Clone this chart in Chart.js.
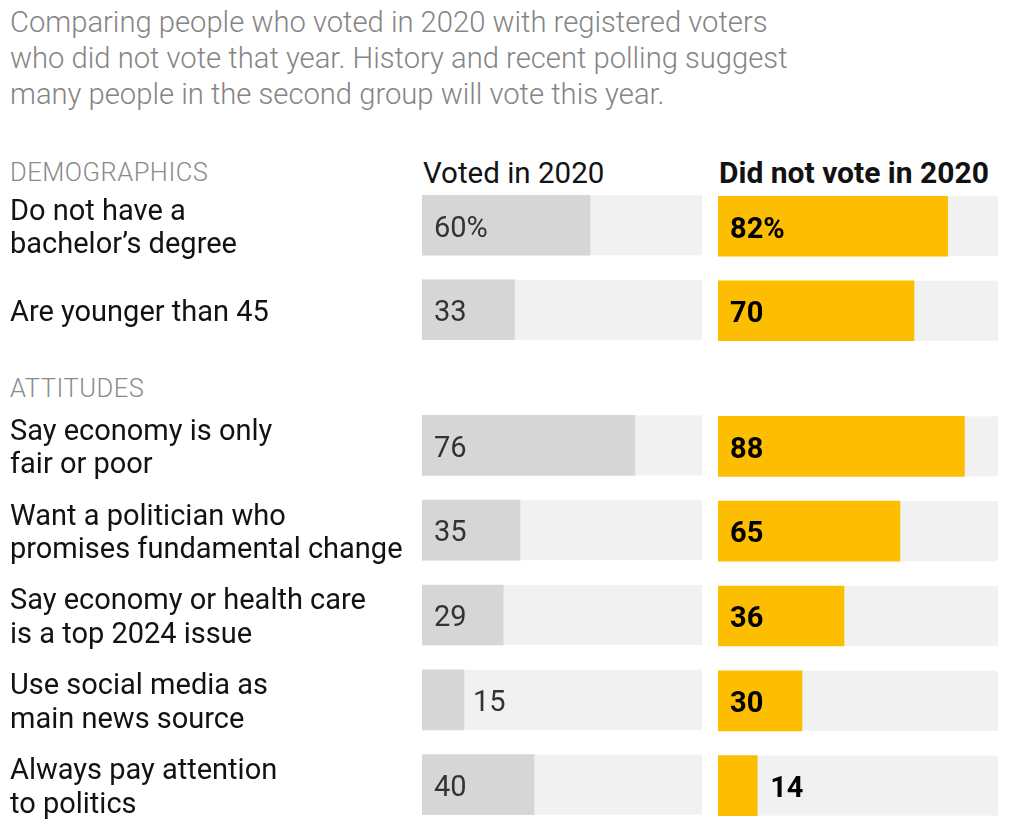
<!DOCTYPE html>
<html>
<head>
<meta charset="utf-8">
<script src="https://cdn.jsdelivr.net/npm/chart.js@4.4.0/dist/chart.umd.min.js"></script>
<style>
  html,body{margin:0;padding:0;background:#fff;}
  body{width:1024px;height:840px;position:relative;overflow:hidden;font-family:Roboto, "Liberation Sans", sans-serif;}
  .abs{position:absolute;white-space:nowrap;}
  #sub{left:10px;top:4px;font-size:29.2px;line-height:36px;color:#858585;font-weight:300;}
  .sec{font-size:25.5px;line-height:26px;color:#8a8a8a;letter-spacing:0.5px;font-weight:300;}
  .colh{font-size:29.5px;line-height:30px;color:#121212;}
  canvas{position:absolute;}
</style>
</head>
<body>
<div id="sub" class="abs">Comparing people who voted in 2020 with registered voters<br>who did not vote that year. History and recent polling suggest<br>many people in the second group will vote this year.</div>
<div class="abs sec" style="left:10px;top:159px;">DEMOGRAPHICS</div>
<div class="abs sec" style="left:10px;top:375px;">ATTITUDES</div>
<div class="abs colh" style="left:423px;top:158px;">Voted in 2020</div>
<div class="abs colh" style="left:719px;top:158px;font-weight:700;font-size:30px;">Did not vote in 2020</div>

<canvas id="demoL" width="692" height="169" style="left:10px;top:183px;"></canvas>
<canvas id="demoR" width="280" height="169" style="left:718px;top:184px;"></canvas>
<canvas id="attL" width="692" height="424" style="left:10px;top:403px;"></canvas>
<canvas id="attR" width="280" height="424" style="left:718px;top:404px;"></canvas>

<script>
// ---- data ----
const demoLabels = [["Do not have a", "bachelor’s degree"], "Are younger than 45"];
const demoVoted = [60, 33];
const demoVotedText = ["60%", "33"];
const demoNotVoted = [82, 70];
const demoNotVotedText = ["82%", "70"];

const attLabels = [
  ["Say economy is only", "fair or poor"],
  ["Want a politician who", "promises fundamental change"],
  ["Say economy or health care", "is a top 2024 issue"],
  ["Use social media as", "main news source"],
  ["Always pay attention", "to politics"]
];
const attVoted = [76, 35, 29, 15, 40];
const attVotedText = ["76", "35", "29", "15", "40"];
// bar lengths as drawn in the reference (the "36" bar is drawn to about 45)
const attNotVoted = [88, 65, 45, 30, 14];
const attNotVotedText = ["88", "65", "36", "30", "14"];

// ---- styles ----
const FONT = 'Roboto, "Liberation Sans", sans-serif';
const TRACK = '#f1f1f1';
const GRAY = '#d6d6d6';
const YELLOW = '#fdbd00';

const trackAndLabels = {
  id: 'trackAndLabels',
  beforeDatasetsDraw(chart) {
    const ctx = chart.ctx, xs = chart.scales.x, meta = chart.getDatasetMeta(0);
    const x0 = xs.getPixelForValue(0), x1 = xs.getPixelForValue(100);
    ctx.save();
    ctx.fillStyle = TRACK;
    meta.data.forEach(bar => {
      const h = bar.height;
      ctx.fillRect(x0, bar.y - h / 2, x1 - x0, h);
    });
    ctx.restore();
  },
  afterDatasetsDraw(chart, args, opts) {
    const ctx = chart.ctx, meta = chart.getDatasetMeta(0);
    ctx.save();
    ctx.font = (opts.bold ? '700 ' : '400 ') + '29px ' + FONT;
    ctx.fillStyle = opts.color;
    ctx.textBaseline = 'middle';
    ctx.textAlign = 'left';
    meta.data.forEach((bar, i) => {
      const txt = opts.texts[i];
      const w = bar.x - bar.base;
      const x = w < 50 ? bar.x + (opts.bold ? 13 : 9) : bar.base + 12;
      ctx.fillText(txt, x, bar.y + 4);
    });
    ctx.restore();
  }
};

function makeChart(id, labels, values, color, showLabels, labelOpts) {
  return new Chart(document.getElementById(id), {
    type: 'bar',
    data: {
      labels: labels,
      datasets: [{ data: values, backgroundColor: color, barThickness: 60, borderWidth: 0 }]
    },
    options: {
      indexAxis: 'y',
      responsive: false,
      animation: false,
      events: [],
      layout: { padding: 0 },
      scales: {
        x: { display: false, min: 0, max: 100 },
        y: {
          display: showLabels,
          grid: { display: false, drawTicks: false },
          border: { display: false },
          ticks: {
            crossAlign: 'far',
            padding: 0,
            labelOffset: 4,
            color: '#121212',
            font: { family: FONT, size: 29, lineHeight: 1.16 }
          },
          afterFit(s) {
            if (showLabels) { s.width = 412; }
            s.paddingTop = 0; s.paddingBottom = 0;
          }
        }
      },
      plugins: {
        legend: { display: false },
        tooltip: { enabled: false },
        trackAndLabels: labelOpts
      }
    },
    plugins: [trackAndLabels]
  });
}

makeChart('demoL', demoLabels, demoVoted, GRAY, true, { color: '#333', bold: false, texts: demoVotedText });
makeChart('demoR', demoLabels, demoNotVoted, YELLOW, false, { color: '#000', bold: true, texts: demoNotVotedText });
makeChart('attL', attLabels, attVoted, GRAY, true, { color: '#333', bold: false, texts: attVotedText });
makeChart('attR', attLabels, attNotVoted, YELLOW, false, { color: '#000', bold: true, texts: attNotVotedText });
</script>
</body>
</html>
